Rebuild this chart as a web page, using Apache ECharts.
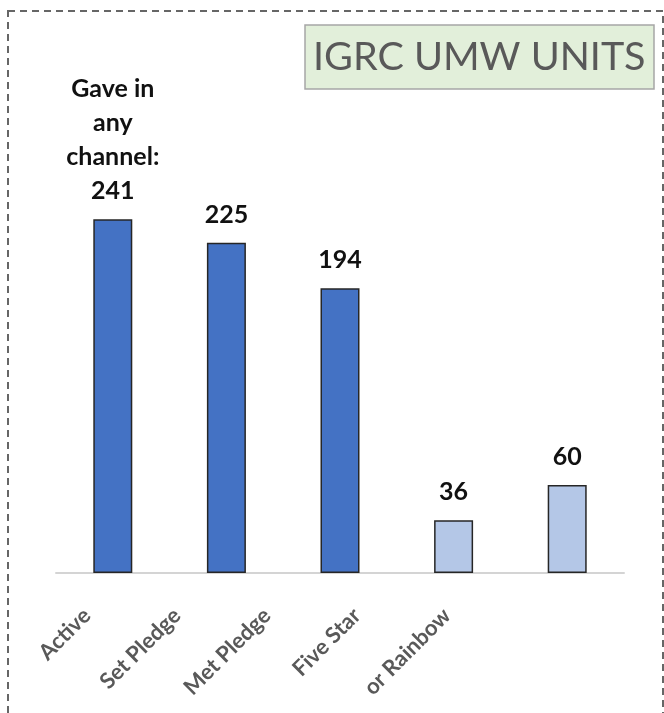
<!DOCTYPE html>
<html>
<head>
<meta charset="utf-8">
<script src="https://cdn.jsdelivr.net/npm/echarts@6/dist/echarts.min.js"></script>
<style>
html,body{margin:0;padding:0;background:#fff;}
#chart{width:664px;height:713px;}
</style>
</head>
<body>
<div id="chart"></div>
<script>
const categories = ['Active', 'Set Pledge', 'Met Pledge', 'Five Star', 'or Rainbow'];
const values = [241, 225, 194, 36, 60];
const groups = ['giving', 'giving', 'giving', 'recognition', 'recognition'];
const firstLabelPrefix = ['Gave in', 'any', 'channel:'];
const titleText = 'IGRC UMW UNITS';

const groupColors = { giving: '#4472C4', recognition: '#B4C7E7' };

const chart = echarts.init(document.getElementById('chart'), null, { renderer: 'canvas' });

chart.setOption({
  animation: false,
  backgroundColor: '#ffffff',
  title: {
    text: titleText,
    left: 305,
    top: 25,
    padding: [12, 9, 12, 8],
    backgroundColor: '#e2efda',
    borderColor: '#a6a6a6',
    borderWidth: 1.5,
    textStyle: {
      fontFamily: 'Lato',
      fontWeight: 'normal',
      fontSize: 39.5,
      color: '#595959'
    }
  },
  graphic: [{
    type: 'rect',
    silent: true,
    shape: { x: 8, y: 11, width: 655, height: 710 },
    style: { fill: null, stroke: '#666666', lineWidth: 2, lineDash: [7, 5] }
  }],
  grid: [
    { left: 56, right: 40, top: 206, bottom: 140 },
    { left: 42, right: 172, top: 206, bottom: 140 }
  ],
  xAxis: [{
    type: 'category',
    gridIndex: 0,
    data: categories,
    axisLine: { show: true, lineStyle: { color: '#d4d4d4', width: 2 } },
    axisTick: { show: false },
    axisLabel: { show: false }
  }, {
    type: 'category',
    gridIndex: 1,
    data: categories,
    axisLine: { show: false },
    axisTick: { show: false },
    axisLabel: {
      rotate: 45,
      margin: 39,
      interval: 0,
      fontFamily: 'Lato',
      fontWeight: 'bold',
      fontSize: 22,
      color: '#595959'
    }
  }],
  yAxis: [{
    type: 'value', gridIndex: 0, min: 0, max: 250, show: false
  }, {
    type: 'value', gridIndex: 1, min: 0, max: 250, show: false
  }],
  series: [{
    type: 'bar',
    xAxisIndex: 0,
    yAxisIndex: 0,
    barWidth: 39,
    data: values,
    itemStyle: {
      color: p => groupColors[groups[p.dataIndex]],
      borderColor: '#262626',
      borderWidth: 1.5
    },
    label: {
      show: true,
      position: 'top',
      distance: 11,
      fontFamily: 'Lato',
      fontWeight: 'bold',
      fontSize: 25,
      lineHeight: 34,
      color: '#111111',
      formatter: p => p.dataIndex === 0
        ? firstLabelPrefix.join('\n') + '\n' + p.value
        : String(p.value)
    }
  }]
});
</script>
</body>
</html>
